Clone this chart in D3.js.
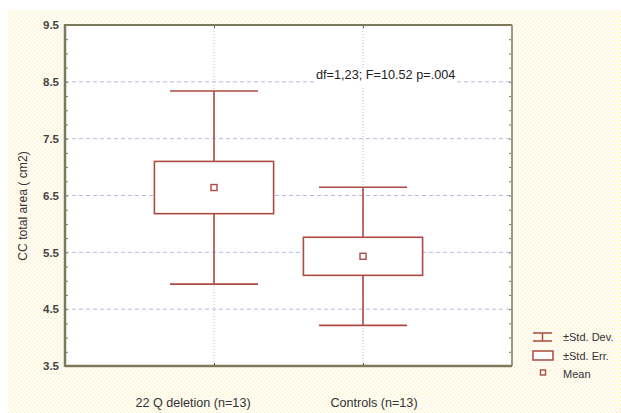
<!DOCTYPE html>
<html>
<head>
<meta charset="utf-8">
<script src="https://cdn.jsdelivr.net/npm/d3@7/dist/d3.min.js"></script>
<style>
  body { margin: 0; background: #fff; }
  text { font-family: "Liberation Sans", Arial, sans-serif; }
</style>
</head>
<body>
<div id="chart"></div>
<script>
var categories = ["22 Q deletion (n=13)", "Controls (n=13)"];
var means = [6.64, 5.43];
var stdErr = [0.46, 0.335];
var stdDev = [1.70, 1.215];
var yTicks = [3.5, 4.5, 5.5, 6.5, 7.5, 8.5, 9.5];
var legendLabels = ["\u00b1Std. Dev.", "\u00b1Std. Err.", "Mean"];
var statText = "df=1,23; F=10.52 p=.004";

var width = 621, height = 413;
var margin = {top: 25, right: 109, bottom: 47, left: 65};
var red = "#ad4a42", axisCol = "#7b7b5c", gridCol = "#b4bce4";

var svg = d3.select("#chart").append("svg")
    .attr("width", width).attr("height", height);

// dotted paper background
var defs = svg.append("defs");
var pat = defs.append("pattern").attr("id", "paper")
    .attr("width", 4).attr("height", 4).attr("patternUnits", "userSpaceOnUse");
pat.append("rect").attr("width", 4).attr("height", 4).attr("fill", "#fffcf0");
pat.append("rect").attr("x", 0).attr("y", 0).attr("width", 1).attr("height", 1).attr("fill", "#fbeebb");
pat.append("rect").attr("x", 2).attr("y", 2).attr("width", 1).attr("height", 1).attr("fill", "#fbe3e0");
svg.append("rect").attr("x", 8).attr("y", 10).attr("width", width - 8).attr("height", height - 10)
    .attr("fill", "url(#paper)");

var x = d3.scalePoint().domain(categories)
    .range([margin.left, width - margin.right]).padding(1);
var y = d3.scaleLinear().domain([3.5, 9.5]).range([height - margin.bottom, margin.top]);
var step = x.step();

svg.append("rect")
    .attr("x", margin.left).attr("y", margin.top)
    .attr("width", width - margin.left - margin.right)
    .attr("height", height - margin.top - margin.bottom)
    .attr("fill", "#fff");

// grid
svg.append("g").selectAll("line").data(yTicks.slice(1, -1)).enter().append("line")
    .attr("x1", margin.left).attr("x2", width - margin.right)
    .attr("y1", d => y(d)).attr("y2", d => y(d))
    .attr("stroke", gridCol).attr("stroke-dasharray", "4,3");
svg.append("g").selectAll("line").data(categories).enter().append("line")
    .attr("x1", d => x(d)).attr("x2", d => x(d))
    .attr("y1", margin.top).attr("y2", height - margin.bottom)
    .attr("stroke", gridCol).attr("stroke-dasharray", "1,2");

// stats annotation with white backing
var ann = svg.append("g");
var annText = ann.append("text").attr("x", x(categories[1]) - 47).attr("y", 79)
    .attr("font-size", 12.7).attr("fill", "#222").text(statText);
var bb = annText.node().getBBox();
ann.insert("rect", "text").attr("x", bb.x - 2).attr("y", bb.y).attr("width", bb.width + 4)
    .attr("height", bb.height + 4).attr("fill", "#fff");

// whiskers and boxes
var groups = svg.append("g").selectAll("g").data(categories).enter().append("g");
groups.append("line")
    .attr("x1", d => x(d)).attr("x2", d => x(d))
    .attr("y1", (d, i) => y(means[i] + stdDev[i])).attr("y2", (d, i) => y(means[i] - stdDev[i]))
    .attr("stroke", red).attr("stroke-width", 1.6);
[1, -1].forEach(function(s) {
  groups.append("line")
      .attr("x1", d => x(d) - step * 0.295).attr("x2", d => x(d) + step * 0.295)
      .attr("y1", (d, i) => y(means[i] + s * stdDev[i])).attr("y2", (d, i) => y(means[i] + s * stdDev[i]))
      .attr("stroke", red).attr("stroke-width", 1.6);
});
groups.append("rect")
    .attr("x", d => x(d) - step * 0.4).attr("width", step * 0.8)
    .attr("y", (d, i) => y(means[i] + stdErr[i]))
    .attr("height", (d, i) => y(means[i] - stdErr[i]) - y(means[i] + stdErr[i]))
    .attr("fill", "#fff").attr("stroke", red).attr("stroke-width", 1.6);
groups.append("rect")
    .attr("x", d => x(d) - 3).attr("y", (d, i) => y(means[i]) - 3)
    .attr("width", 6).attr("height", 6)
    .attr("fill", "#fff").attr("stroke", red).attr("stroke-width", 1.4);

// axes
var minor = d3.range(3.5, 9.51, 0.25);
var left = svg.append("g").attr("transform", "translate(" + margin.left + ",0)")
    .call(d3.axisRight(y).tickValues(minor).tickSize(3).tickFormat(""));
var right = svg.append("g").attr("transform", "translate(" + (width - margin.right) + ",0)")
    .call(d3.axisLeft(y).tickValues(minor).tickSize(3).tickFormat(""));
[left, right].forEach(function(g) {
  g.select(".domain").remove();
  g.selectAll(".tick line").attr("stroke", axisCol);
});
var yLab = svg.append("g").attr("transform", "translate(" + margin.left + ",0)")
    .call(d3.axisLeft(y).tickValues(yTicks).tickSize(0).tickPadding(6).tickFormat(d3.format(".1f")));
yLab.select(".domain").remove();
yLab.selectAll("text").attr("font-size", 11.5).attr("font-weight", "bold").attr("fill", "#444")
    .attr("font-family", "Liberation Sans, Arial, sans-serif");

var xt = svg.append("g").attr("transform", "translate(0," + (height - margin.bottom) + ")")
    .call(d3.axisTop(x).tickSize(3).tickFormat(""));
xt.select(".domain").remove();
xt.selectAll(".tick line").attr("stroke", "#555");
var xtt = svg.append("g").attr("transform", "translate(0," + margin.top + ")")
    .call(d3.axisBottom(x).tickSize(3).tickFormat(""));
xtt.select(".domain").remove();
xtt.selectAll(".tick line").attr("stroke", "#555");

// frame
svg.append("line").attr("x1", margin.left).attr("x2", width - margin.right)
    .attr("y1", margin.top).attr("y2", margin.top).attr("stroke", axisCol).attr("stroke-width", 2);
svg.append("line").attr("x1", width - margin.right).attr("x2", width - margin.right)
    .attr("y1", margin.top).attr("y2", height - margin.bottom).attr("stroke", "#9a9a7c").attr("stroke-width", 2);
svg.append("line").attr("x1", margin.left).attr("x2", margin.left)
    .attr("y1", margin.top - 1).attr("y2", height - margin.bottom + 1).attr("stroke", axisCol).attr("stroke-width", 2.5);
svg.append("line").attr("x1", margin.left).attr("x2", width - margin.right)
    .attr("y1", height - margin.bottom).attr("y2", height - margin.bottom).attr("stroke", axisCol).attr("stroke-width", 2.5);

// category labels
var labelShift = [-21, 11];
svg.append("g").selectAll("text").data(categories).enter().append("text")
    .attr("x", (d, i) => x(d) + labelShift[i]).attr("y", 407)
    .attr("text-anchor", "middle").attr("font-size", 12.6).attr("fill", "#333")
    .text(d => d);

// y title
svg.append("text").attr("transform", "translate(27,206) rotate(-90)")
    .attr("text-anchor", "middle").attr("font-size", 12.2).attr("fill", "#333")
    .text("CC total area ( cm2)");

// legend
var lg = svg.append("g").attr("transform", "translate(533,330)");
var lx = 0;
lg.append("line").attr("x1", lx).attr("x2", lx + 19).attr("y1", 3).attr("y2", 3).attr("stroke", red).attr("stroke-width", 1.5);
lg.append("line").attr("x1", lx).attr("x2", lx + 19).attr("y1", 11).attr("y2", 11).attr("stroke", red).attr("stroke-width", 1.5);
lg.append("line").attr("x1", lx + 9.5).attr("x2", lx + 9.5).attr("y1", 3).attr("y2", 11).attr("stroke", red).attr("stroke-width", 1.5);
lg.append("rect").attr("x", lx).attr("y", 21).attr("width", 20).attr("height", 9)
    .attr("fill", "#fff").attr("stroke", red).attr("stroke-width", 1.5);
lg.append("rect").attr("x", lx + 7.5).attr("y", 40).attr("width", 5).attr("height", 5)
    .attr("fill", "#fff").attr("stroke", red).attr("stroke-width", 1.4);
lg.selectAll("text.leg").data(legendLabels).enter().append("text").attr("class", "leg")
    .attr("x", 30).attr("y", (d, i) => 11 + i * 18.5)
    .attr("font-size", 11).attr("fill", "#333").text(d => d);
</script>
</body>
</html>
